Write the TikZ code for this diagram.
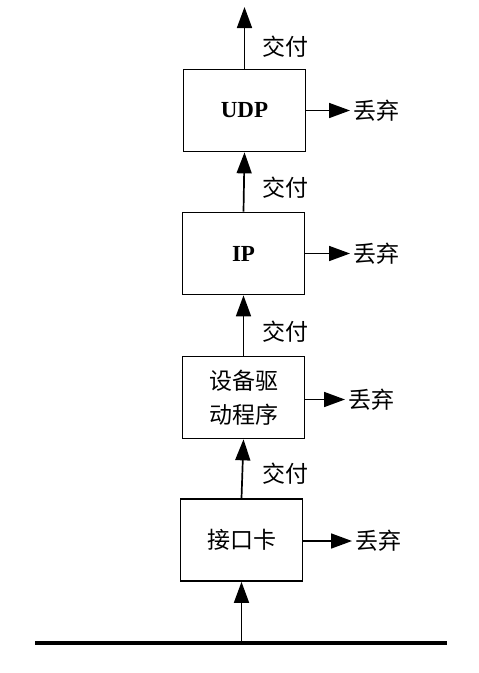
\documentclass[tikz,border=0pt]{standalone}
\usepackage{fontspec}
\setmainfont{Liberation Serif}
\newfontfamily\cjk{Noto Sans CJK SC}
\usetikzlibrary{arrows.meta}
\begin{document}
\begin{tikzpicture}[x=1pt,y=-1pt,
  layer/.style={draw,line width=1.7pt,minimum width=122pt,minimum height=82pt,inner sep=0pt,align=center},
  lbl/.style={inner sep=3pt,anchor=west,font=\cjk\fontsize{23}{25}\selectfont},
  flow/.style={line width=1.7pt,-{Triangle[length=21pt,width=15pt]}}]
\useasboundingbox (0,0) rectangle (479,673);
% layers
\node[layer,font=\bfseries\fontsize{23}{25}\selectfont] (udp) at (244.5,110.5) {UDP};
\node[layer,font=\bfseries\fontsize{23}{25}\selectfont] (ip) at (243.5,253.5) {IP};
\node[layer,font=\cjk\fontsize{23}{34}\selectfont] (dev) at (243.5,397.5) {设备驱\\动程序};
\node[layer,font=\cjk\fontsize{23}{25}\selectfont] (nic) at (241.5,540) {接口卡};
% wire
\coordinate (wl) at (35,643);
\coordinate (wr) at (447,643);
\coordinate (tap) at (241.5,643);
\coordinate (top) at (244.5,7);
\draw[line width=4pt] (wl) -- (wr);
% deliver arrows
\draw[flow] (tap) -- (nic.south);
\draw[flow] (nic.north) -- (dev.south);
\draw[flow] (dev.north) -- (ip.south);
\draw[flow] (ip.north) -- (udp.south);
\draw[flow] (udp.north) -- (top);
% deliver labels
\node[lbl] (d1) at (259,47) {交付};
\node[lbl] (d2) at (259,188) {交付};
\node[lbl] (d3) at (259,332) {交付};
\node[lbl] (d4) at (259,474) {交付};
% discard
\node[lbl] (x1) at (350,110.5) {丢弃};
\node[lbl] (x2) at (350,253.5) {丢弃};
\node[lbl] (x3) at (345,399.5) {丢弃};
\node[lbl] (x4) at (352,541) {丢弃};
\draw[flow] (udp.east) -- (x1.west);
\draw[flow] (ip.east) -- (x2.west);
\draw[flow] (dev.east|-x3.west) -- (x3.west);
\draw[flow] (nic.east|-x4.west) -- (x4.west);
\end{tikzpicture}
\end{document}
